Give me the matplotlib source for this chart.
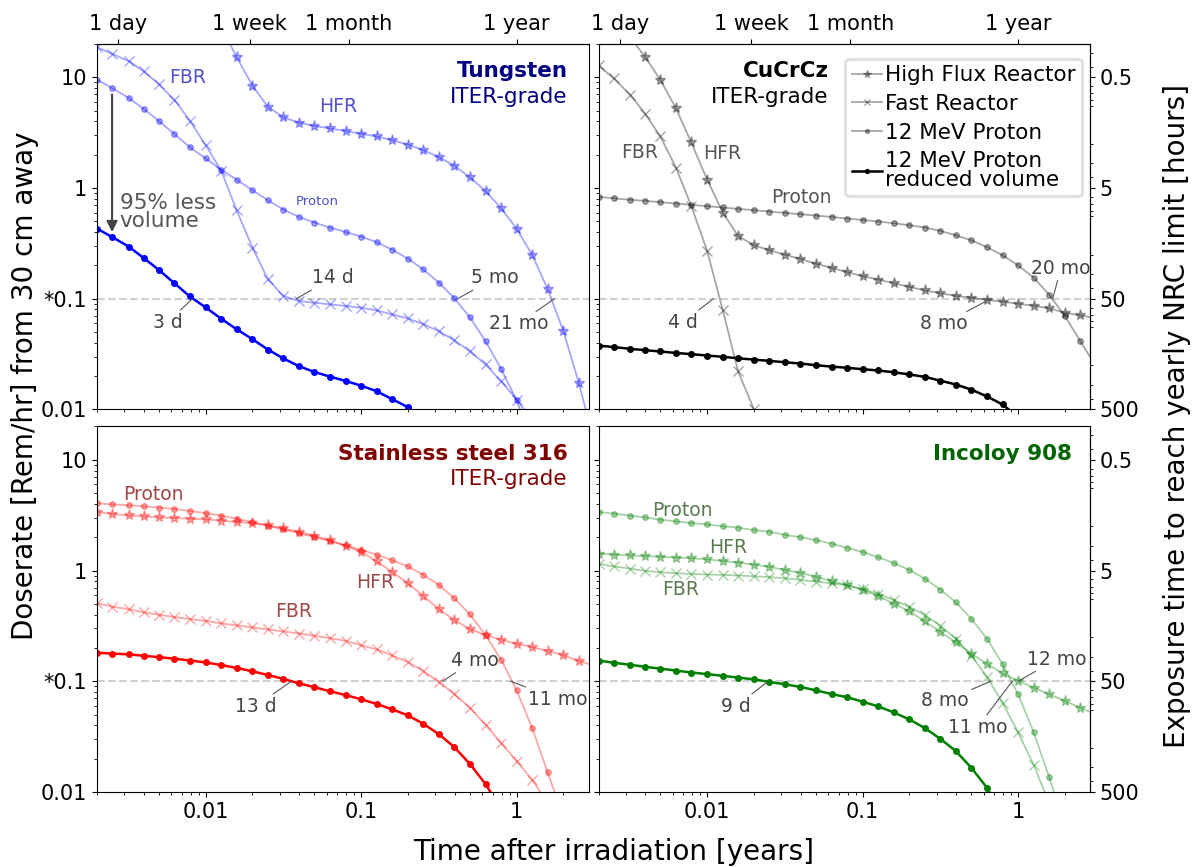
import numpy as np
import matplotlib
matplotlib.use("Agg")
import matplotlib.pyplot as plt
from matplotlib.ticker import NullLocator, NullFormatter

nan = np.nan

# time after irradiation [years], one marker per 0.1 decade
t = [0.002, 0.0025, 0.0032, 0.004, 0.005, 0.0063, 0.0079, 0.01, 0.0126, 0.0158,
     0.02, 0.0251, 0.0316, 0.0398, 0.0501, 0.0631, 0.0794, 0.1, 0.126, 0.158,
     0.2, 0.251, 0.316, 0.398, 0.501, 0.631, 0.794, 1.0, 1.26, 1.58,
     2.0, 2.51, 3.16]

# doserate [Rem/hr] at 30 cm
w_hfr = [nan, nan, nan, nan, nan, nan, nan, nan, 29, 15.2, 8.4, 5.43, 4.35, 3.89, 3.63, 3.45,
         3.27, 3.09, 2.92, 2.71, 2.46, 2.20, 1.90, 1.59, 1.25, 0.942, 0.657, 0.430, 0.248,
         0.123, 0.0509, 0.0174, 0.005]
w_fbr = [18.7, 16.3, 14.0, 11.3, 8.65, 6.24, 4.06, 2.44, 1.43, 0.630, 0.290, 0.150, 0.106,
         0.0953, 0.092, 0.089, 0.086, 0.083, 0.0784, 0.0721, 0.0664, 0.059, 0.0510, 0.0420,
         0.0336, 0.0255, 0.0180, 0.0123, 0.008, 0.005, nan, nan, nan]
w_pro = [9.5, 8.0, 6.5, 5.17, 4.03, 3.07, 2.34, 1.85, 1.46, 1.19, 0.955, 0.776, 0.638, 0.548,
         0.487, 0.439, 0.401, 0.364, 0.324, 0.278, 0.230, 0.184, 0.140, 0.101, 0.0678, 0.0414,
         0.0233, 0.0121, 0.005, nan, nan, nan, nan]
w_red = [0.43, 0.361, 0.296, 0.233, 0.182, 0.138, 0.105, 0.0835, 0.0659, 0.0531, 0.0431,
         0.0348, 0.0289, 0.0246, 0.0218, 0.0198, 0.0181, 0.0164, 0.0146, 0.0124, 0.0105, 0.008,
         nan, nan, nan, nan, nan, nan, nan, nan, nan, nan, nan]

cu_hfr = [nan, nan, 23, 15.2, 9.46, 5.24, 2.58, 1.19, 0.600, 0.369, 0.304, 0.275, 0.250, 0.229,
          0.207, 0.190, 0.174, 0.160, 0.149, 0.138, 0.128, 0.119, 0.112, 0.106, 0.102, 0.098,
          0.094, 0.090, 0.0865, 0.0818, 0.0747, 0.0707, 0.0668]
cu_fbr = [12.8, 9.8, 6.97, 4.65, 2.92, 1.53, 0.690, 0.270, 0.0789, 0.0221, 0.0100, 0.004,
          nan, nan, nan, nan, nan, nan, nan, nan, nan, nan, nan, nan, nan, nan, nan, nan, nan,
          nan, nan, nan, nan]
cu_pro = [0.832, 0.809, 0.782, 0.766, 0.745, 0.724, 0.705, 0.685, 0.667, 0.648, 0.630, 0.613,
          0.596, 0.580, 0.564, 0.548, 0.530, 0.515, 0.498, 0.481, 0.461, 0.440, 0.410, 0.374,
          0.337, 0.292, 0.247, 0.200, 0.155, 0.109, 0.0697, 0.0414, 0.0246]
cu_red = [0.0378, 0.0366, 0.0353, 0.0343, 0.0334, 0.0324, 0.0316, 0.0307, 0.0299, 0.0290,
          0.0282, 0.0275, 0.0267, 0.0260, 0.0251, 0.0244, 0.0238, 0.0231, 0.0225, 0.0217,
          0.0207, 0.0197, 0.0182, 0.0168, 0.0151, 0.0131, 0.0111, 0.0085, nan, nan, nan, nan, nan]

ss_hfr = [3.38, 3.24, 3.15, 3.08, 3.02, 2.98, 2.94, 2.90, 2.82, 2.74, 2.67, 2.56, 2.40, 2.23,
          2.06, 1.87, 1.67, 1.48, 1.21, 0.973, 0.767, 0.589, 0.450, 0.357, 0.296, 0.261, 0.237,
          0.218, 0.203, 0.188, 0.172, 0.153, 0.138]
ss_fbr = [0.506, 0.472, 0.447, 0.419, 0.399, 0.380, 0.365, 0.350, 0.333, 0.320, 0.306, 0.294,
          0.282, 0.270, 0.258, 0.245, 0.232, 0.211, 0.194, 0.171, 0.149, 0.124, 0.0987, 0.0768,
          0.0573, 0.0405, 0.0278, 0.0190, 0.0129, 0.008, nan, nan, nan]
ss_pro = [4.05, 3.96, 3.88, 3.80, 3.70, 3.60, 3.45, 3.31, 3.13, 2.94, 2.74, 2.54, 2.35, 2.18,
          2.00, 1.85, 1.69, 1.53, 1.39, 1.24, 1.09, 0.914, 0.742, 0.561, 0.402, 0.261, 0.157,
          0.0829, 0.0378, 0.0151, 0.006, nan, nan]
ss_red = [0.181, 0.178, 0.175, 0.170, 0.165, 0.160, 0.154, 0.148, 0.140, 0.132, 0.123, 0.114,
          0.105, 0.0959, 0.0883, 0.0812, 0.0751, 0.0687, 0.0624, 0.0558, 0.0492, 0.0413, 0.0333,
          0.0254, 0.0179, 0.0118, 0.007, nan, nan, nan, nan, nan, nan]

in_hfr = [1.42, 1.39, 1.37, 1.35, 1.33, 1.31, 1.29, 1.26, 1.22, 1.18, 1.13, 1.08, 1.01, 0.953,
          0.877, 0.805, 0.736, 0.669, 0.589, 0.502, 0.428, 0.347, 0.280, 0.224, 0.177, 0.144,
          0.118, 0.101, 0.0877, 0.0763, 0.0664, 0.0577, 0.0502]
in_fbr = [1.15, 1.09, 1.04, 0.993, 0.966, 0.946, 0.933, 0.920, 0.914, 0.901, 0.889, 0.871,
          0.853, 0.823, 0.795, 0.768, 0.736, 0.682, 0.615, 0.542, 0.469, 0.397, 0.318, 0.241,
          0.170, 0.109, 0.0641, 0.0345, 0.0175, 0.008, nan, nan, nan]
in_pro = [3.38, 3.27, 3.13, 3.02, 2.88, 2.78, 2.69, 2.61, 2.51, 2.44, 2.32, 2.24, 2.10, 2.00,
          1.88, 1.75, 1.60, 1.47, 1.32, 1.17, 1.01, 0.846, 0.673, 0.516, 0.365, 0.242, 0.143,
          0.0762, 0.0345, 0.0137, 0.005, nan, nan]
in_red = [0.154, 0.147, 0.141, 0.135, 0.130, 0.125, 0.120, 0.116, 0.112, 0.108, 0.104, 0.0987,
          0.0939, 0.0889, 0.0828, 0.0767, 0.0717, 0.0654, 0.0593, 0.0524, 0.0452, 0.0378,
          0.0302, 0.0234, 0.0165, 0.0109, 0.006, nan, nan, nan, nan, nan, nan]

# times where the curves cross 0.1 Rem/hr: (label, years, text offset in points)
w_marks = [("3 d", 3 / 365, -18, -17), ("14 d", 14 / 365, 26, 15),
           ("5 mo", 5 / 12, 27, 15), ("21 mo", 21 / 12, -26, -18)]
cu_marks = [("4 d", 4 / 365, -22, -17), ("8 mo", 8 / 12, -34, -18), ("20 mo", 20 / 12, 6, 22)]
ss_marks = [("13 d", 13 / 365, -26, -18), ("4 mo", 4 / 12, 23, 15), ("11 mo", 11 / 12, 34, -13)]
in_marks = [("9 d", 9 / 365, -23, -18), ("8 mo", 8 / 12, -33, -14),
            ("11 mo", 11 / 12, -25, -33), ("12 mo", 1.0, 28, 16)]

top_ticks = [1 / 365, 7 / 365, 1 / 12, 1]
top_labels = ["1 day", "1 week", "1 month", "1 year"]
hour_ticks = [0.5, 5, 50, 500]


def hours(v):
    v = np.asarray(v, dtype=float)
    with np.errstate(divide="ignore", invalid="ignore"):
        return 5.0 / v


def draw(ax, color, hfr, fbr, pro, red, marks, alpha=0.35):
    ax.axhline(0.1, color="0.82", ls="--", lw=1.5, zorder=0)
    ax.plot(t, hfr, marker="*", ms=8, lw=1.3, color=color, alpha=alpha, label="High Flux Reactor")
    ax.plot(t, fbr, marker="x", ms=7, lw=1.3, color=color, alpha=alpha, label="Fast Reactor")
    ax.plot(t, pro, marker=".", ms=8, lw=1.3, color=color, alpha=alpha, label="12 MeV Proton")
    ax.plot(t, red, marker=".", ms=8, lw=1.8, color=color,
            label="12 MeV Proton\nreduced volume")
    for text, tc, dx, dy in marks:
        ax.annotate(text, xy=(tc, 0.1), xytext=(dx, dy), textcoords="offset points",
                    ha="center", va="center", fontsize=13.5, color="#444444",
                    arrowprops=dict(arrowstyle="-", color="#555555", lw=0.8,
                                    shrinkA=0, shrinkB=0))


fig, axes = plt.subplots(2, 2, sharex=True, sharey=True, figsize=(11.96, 8.67), dpi=100)
fig.subplots_adjust(left=0.0811, right=0.9114, top=0.9493, bottom=0.0865,
                    wspace=0.0203, hspace=0.0465)
ax_w, ax_cu = axes[0]
ax_ss, ax_in = axes[1]

draw(ax_w, "blue", w_hfr, w_fbr, w_pro, w_red, w_marks)
draw(ax_cu, "black", cu_hfr, cu_fbr, cu_pro, cu_red, cu_marks)
draw(ax_ss, "red", ss_hfr, ss_fbr, ss_pro, ss_red, ss_marks)
draw(ax_in, "green", in_hfr, in_fbr, in_pro, in_red, in_marks)

for ax in axes.flat:
    ax.set_xscale("log")
    ax.set_yscale("log")
    ax.tick_params(labelsize=15)
ax_w.set_xlim(0.002, 2.9)
ax_w.set_ylim(0.01, 20)
ax_w.set_yticks([0.01, 0.1, 1, 10], labels=["0.01", "*0.1", "1", "10"])
ax_w.set_xticks([0.01, 0.1, 1], labels=["0.01", "0.1", "1"])
ax_w.xaxis.set_minor_formatter(NullFormatter())
ax_w.yaxis.set_minor_formatter(NullFormatter())

for ax in axes[0]:
    sx = ax.secondary_xaxis("top")
    sx.set_xticks(top_ticks, labels=top_labels)
    sx.xaxis.set_minor_locator(NullLocator())
    sx.tick_params(labelsize=15)

for ax in axes[:, 1]:
    sy = ax.secondary_yaxis("right", functions=(hours, hours))
    sy.set_yticks(hour_ticks, labels=["0.5", "5", "50", "500"])
    sy.yaxis.set_minor_formatter(NullFormatter())
    sy.tick_params(labelsize=15)

# panel titles
titles = [(ax_w, "Tungsten", "ITER-grade", "#000080", 0.957),
          (ax_cu, "CuCrCz", "ITER-grade", "black", 0.468),
          (ax_ss, "Stainless steel 316", "ITER-grade", "#800000", 0.957),
          (ax_in, "Incoloy 908", None, "#006400", 0.963)]
for ax, name, grade, col, xf in titles:
    ax.text(xf, 0.925, name, transform=ax.transAxes, ha="right", va="center",
            fontsize=15.5, fontweight="bold", color=col)
    if grade:
        ax.text(xf, 0.856, grade, transform=ax.transAxes, ha="right", va="center",
                fontsize=15.5, color=col)

# curve labels
lab = dict(ha="center", va="center", fontsize=13.5)
ax_w.text(0.0077, 10.0, "FBR", color="#5050d0", **lab)
ax_w.text(0.0713, 5.43, "HFR", color="#5050d0", **lab)
ax_w.text(0.052, 0.75, "Proton", color="#5050d0", ha="center", va="center", fontsize=9.5)
ax_cu.text(0.00366, 2.08, "FBR", color="#555555", **lab)
ax_cu.text(0.0125, 2.06, "HFR", color="#555555", **lab)
ax_cu.text(0.0401, 0.815, "Proton", color="#555555", **lab)
ax_ss.text(0.00461, 4.86, "Proton", color="#a04848", **lab)
ax_ss.text(0.124, 0.785, "HFR", color="#a04848", **lab)
ax_ss.text(0.0367, 0.425, "FBR", color="#a04848", **lab)
ax_in.text(0.00693, 3.46, "Proton", color="#5a7a50", **lab)
ax_in.text(0.0137, 1.61, "HFR", color="#5a7a50", **lab)
ax_in.text(0.0067, 0.668, "FBR", color="#5a7a50", **lab)

# volume reduction arrow
ax_w.annotate("", xy=(t[1], 0.40), xytext=(t[1], 7.0),
              arrowprops=dict(arrowstyle="-|>", color="#444444", lw=1.5, mutation_scale=16,
                              shrinkA=0, shrinkB=0))
ax_w.text(0.0028, 0.61, "95% less\nvolume", ha="left", va="center", fontsize=15.5,
          color="#555555", linespacing=0.85)

leg = ax_cu.legend(loc="upper right", bbox_to_anchor=(0.984, 0.959), borderaxespad=0,
                   fontsize=15.5, handlelength=1.4, handletextpad=0.15, labelspacing=0.4,
                   borderpad=0.3, markerscale=0.7, framealpha=1, edgecolor="0.87")
leg.get_frame().set_linewidth(2)
leg.get_texts()[3].set_linespacing(0.9)

fig.text(614 / 1196, 1 - 852 / 867, "Time after irradiation [years]", ha="center",
         va="center", fontsize=20)
fig.text(25 / 1196, 1 - 386 / 867, "Doserate [Rem/hr] from 30 cm away", ha="center",
         va="center", rotation=90, fontsize=20)
fig.text(1177 / 1196, 1 - 416 / 867, "Exposure time to reach yearly NRC limit [hours]",
         ha="center", va="center", rotation=90, fontsize=20)

fig.savefig("out.png", dpi=100)
